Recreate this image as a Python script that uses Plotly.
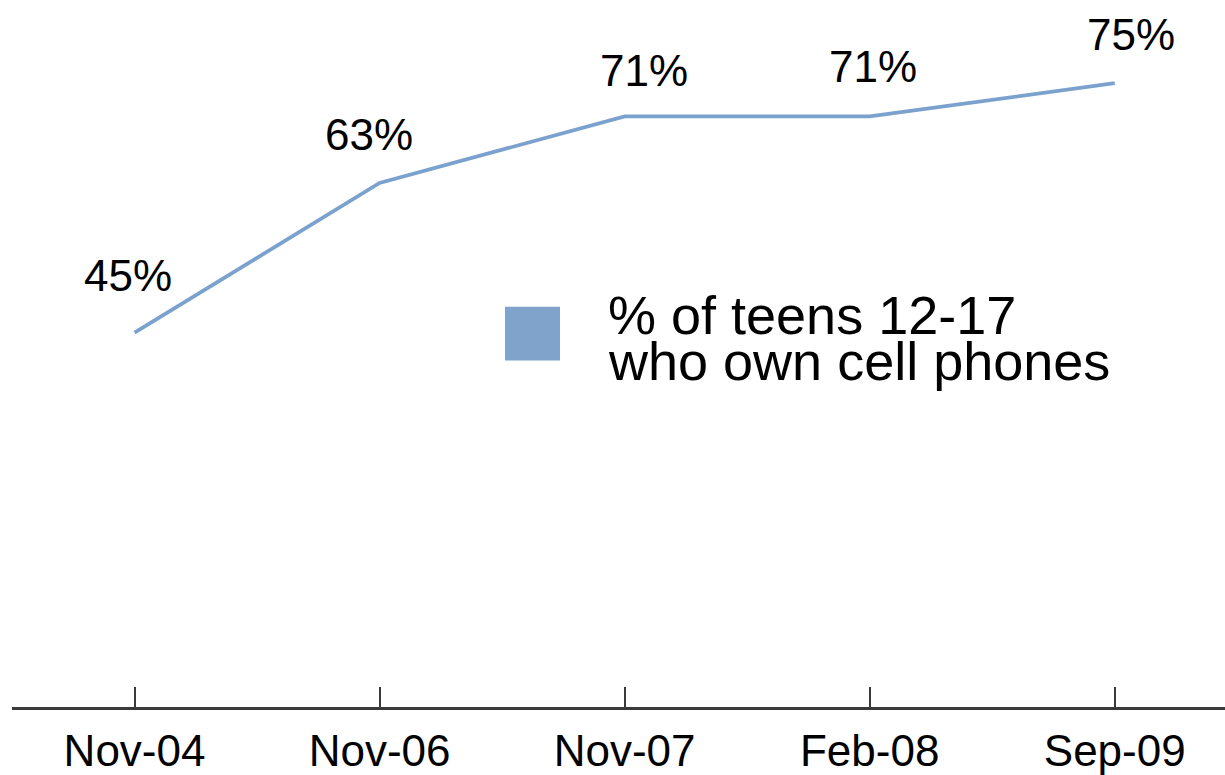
import plotly.graph_objects as go

# ---- data ----
periods = ["Nov-04", "Nov-06", "Nov-07", "Feb-08", "Sep-09"]
pct_teens_own_cell = [45, 63, 71, 71, 75]
series_name_lines = ["% of teens 12-17", "who own cell phones"]

# ---- style ----
LINE_COLOR = "#7BA2CE"
SWATCH_COLOR = "#7FA3CB"
AXIS_COLOR = "#3a3a3a"
FONT = "Liberation Sans, Arial, Helvetica, sans-serif"
W, H = 1225, 775
ML, MR, MT, MB = 12, 0, 0, 65
# per-label pixel offsets (dx, dy up) of the value labels relative to points
label_offsets = [(-7, 57), (-11, 48), (19, 46), (3, 50), (16, 49)]

fig = go.Figure()
fig.add_trace(go.Scatter(
    x=periods, y=pct_teens_own_cell, mode="lines",
    line=dict(color=LINE_COLOR, width=3.8),
    showlegend=False, hoverinfo="skip",
))

annotations = []
for cat, v, (dx, dy) in zip(periods, pct_teens_own_cell, label_offsets):
    annotations.append(dict(
        x=cat, y=v, xref="x", yref="y", text=f"{v}%", showarrow=False,
        xanchor="center", yanchor="middle", xshift=dx, yshift=dy,
        font=dict(family=FONT, size=44, color="#000000"),
    ))

pw = W - ML - MR
ph = H - MT - MB


def px_to_paper(px, py):
    return (px - ML) / pw, 1 - (py - MT) / ph


# legend text (two lines, tight spacing)
for txt, cy in zip(series_name_lines, [316, 363]):
    x0, y0 = px_to_paper(606, cy)
    annotations.append(dict(
        x=x0, y=y0, xref="paper", yref="paper", text=txt, showarrow=False,
        xanchor="left", yanchor="middle",
        font=dict(family=FONT, size=54, color="#000000"),
    ))

sx0, sy0 = px_to_paper(505, 308)
sx1, sy1 = px_to_paper(560, 362)

fig.update_layout(
    width=W, height=H,
    margin=dict(l=ML, r=MR, t=MT, b=MB),
    paper_bgcolor="white", plot_bgcolor="white",
    annotations=annotations,
    shapes=[dict(type="rect", xref="paper", yref="paper",
                 x0=sx0, y0=sy1, x1=sx1, y1=sy0,
                 fillcolor=SWATCH_COLOR, line=dict(width=0))],
    xaxis=dict(
        type="category", range=[-0.5, 4.45],
        showline=True, linecolor=AXIS_COLOR, linewidth=2.5,
        ticks="inside", ticklen=20, tickwidth=2, tickcolor=AXIS_COLOR,
        showgrid=False, zeroline=False,
        tickfont=dict(family=FONT, size=44, color="#000000"),
        ticklabelstandoff=3,
    ),
    yaxis=dict(
        range=[0, 85], showgrid=False, zeroline=False,
        showticklabels=False, showline=False, ticks="",
    ),
    showlegend=False,
)

fig.write_html(
    "out.html",
    config={"displayModeBar": False},
    post_script="document.body.style.margin='0';document.body.style.overflow='hidden';",
)
